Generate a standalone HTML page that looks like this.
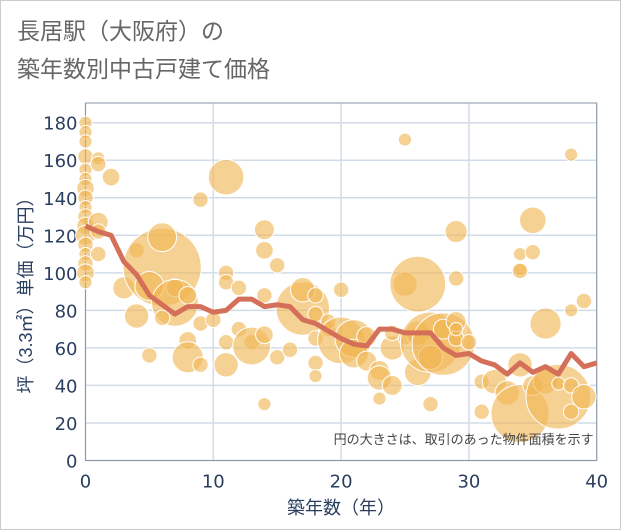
<!DOCTYPE html>
<html><head><meta charset="utf-8">
<style>
body{margin:0;background:#fff;}
#wrap{position:relative;width:621px;height:530px;overflow:hidden;font-family:"Liberation Sans","Noto Sans CJK JP",sans-serif;}
.frame{position:absolute;left:0;top:0;width:619px;height:528px;border:1px solid #ccc;}
.title{position:absolute;left:17px;font-size:23px;color:#666;font-family:"Noto Sans CJK JP",sans-serif;}
</style></head>
<body>
<div id="wrap">
<div class="frame"></div>
<div class="title" style="top:12px">長居駅（大阪府）の</div>
<div class="title" style="top:50px">築年数別中古戸建て価格</div>
<svg id="svg" width="621" height="530" style="position:absolute;left:0;top:0"></svg>
</div>
<script>
const xTicks=[0,10,20,30,40];
const yTicks=[0,20,40,60,80,100,120,140,160,180];
const lineX=[0,1,2,3,4,5,6,7,8,9,10,11,12,13,14,15,16,17,18,19,20,21,22,23,24,25,26,27,28,29,30,31,32,33,34,35,36,37,38,39,40];
const lineY=[125,122,120,106,99,88,83,78,82,82,79,80,86,86,82,83,82,75,73,69,65,62,61,70,70,68,68,68,60,56,57,53,51,46,52,47,50,46,57,50,52];
const bubX=[0,0,0,0,0,0,0,0,0,0,0,0,0,0,0,0,0,1,1,1,1,1,2,3,4,4,5,6,6,5,7,7,6,8,8,8,9,9,9,10,11,11,11,11,11,12,12,13,13,14,14,14,14,14,15,15,16,17,17,18,18,18,18,18,19,19,20,20,21,21,22,22,23,23,23,24,24,24,25,25,25,26,26,26,27,27,27,28,28,29,29,29,29,29,30,31,31,32,33,34,34,34,34,34,35,35,35,36,36,37,37,38,38,38,38,39,39];
const bubY=[180,175,170,162,155,150,145,140,135,130,125,120,115,110,105,100,95,161,158,127,122,110,151,92,77,112,56,103,119,93,92,84,76,88,64,55,51,73,139,75,151,100,95,63,51,92,70,63,61,123,112,88,67,30,104,55,59,81,91,88,78,52,45,65,70,74,64,91,65,57,66,53,48,44,33,40,60,68,94,65,171,94,47,68,63,55,30,62,70,122,97,65,74,70,63,26,42,42,36,25,102,110,101,51,128,111,40,42,73,34,41,163,80,40,26,85,34];
const bubS=[5,5,5,6,5,5,7,6,5,6,7,8,6,5,6,7,5,5,6,8,6,6,7,9,10,6,6,34,12,12,7,20,6,7,7,13,6,6,6,6,15,6,6,6,10,6,6,6,16,8,7,6,7,5,6,6,6,23,10,6,6,6,5,6,6,6,20,6,16,12,8,8,8,10,5,8,10,6,10,5,5,24,11,10,26,10,6,27,8,9,6,6,8,5,6,6,6,10,10,25,5,5,6,10,11,6,8,10,13,28,5,5,5,6,6,6,10];
const L=85.5,R=596.7,T=103,B=460.5,YMAX=190.5;
const sx=v=>L+(R-L)*v/40, sy=v=>B-(B-T)*v/YMAX;
const svg=document.getElementById('svg');const NS='http://www.w3.org/2000/svg';
function mk(t,a,p){const e=document.createElementNS(NS,t);for(const k in a)e.setAttribute(k,a[k]);(p||svg).appendChild(e);return e;}
yTicks.forEach(v=>{const g=mk('line',{x1:L,x2:R,y1:sy(v),y2:sy(v),stroke:'#d2dce8','stroke-width':1.5});

const t=mk('text',{x:L-8,y:sy(v)+7,'text-anchor':'end','font-size':18,fill:'#2a3f5f','font-family':'DejaVu Sans, sans-serif'});t.textContent=v;
});
xTicks.forEach(v=>{const g=mk('line',{x1:sx(v),x2:sx(v),y1:T,y2:B,stroke:'#d2dce8','stroke-width':1.5});

const t=mk('text',{x:sx(v),y:B+27,'text-anchor':'middle','font-size':18,fill:'#2a3f5f','font-family':'DejaVu Sans, sans-serif'});t.textContent=v;
});
const fr=mk('rect',{x:L,y:T,width:R-L,height:B-T,fill:'none',stroke:'#8a96a6','stroke-width':1});

bubX.forEach((x,i)=>{const c=mk('circle',{cx:sx(x),cy:sy(bubY[i]),r:bubS[i]*1.12+1,fill:'#f0b552','fill-opacity':0.62,stroke:'#fff','stroke-width':1});
});
const p=mk('polyline',{points:lineX.map((x,i)=>sx(x)+','+sy(lineY[i])).join(' '),fill:'none',stroke:'#d4705a','stroke-width':5,'stroke-linejoin':'round'});

const n=mk('text',{x:R-3,y:444,'text-anchor':'end','font-size':13,fill:'#444'});n.textContent='円の大きさは、取引のあった物件面積を示す';

const xt=mk('text',{x:341,y:514,'text-anchor':'middle','font-size':18,fill:'#2a3f5f'});xt.textContent='築年数（年）';

const yt=mk('text',{x:0,y:0,'text-anchor':'middle','font-size':18,fill:'#2a3f5f',transform:'translate(32,291) rotate(-90)'});yt.textContent='坪（3.3㎡）単価（万円）';

</script>
</body></html>
